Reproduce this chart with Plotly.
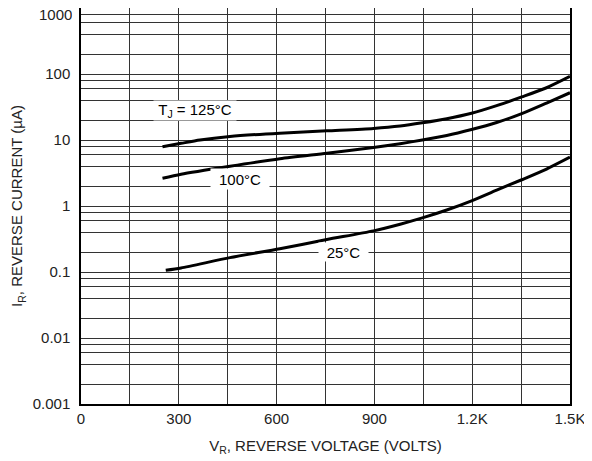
import math
import plotly.graph_objects as go

# ---- data ----
v_125 = [250, 307, 365, 457, 610, 754, 897, 979, 1047, 1122, 1198, 1275, 1352, 1428, 1500]
i_125 = [7.9, 8.9, 10.0, 11.3, 12.7, 13.8, 15.0, 16.3, 18.2, 21.0, 25.4, 33.1, 44.9, 61.9, 92.0]

v_100 = [250, 307, 457, 610, 754, 897, 979, 1047, 1122, 1198, 1275, 1352, 1428, 1500]
i_100 = [2.63, 3.03, 4.0, 5.2, 6.3, 7.7, 8.8, 10.0, 11.7, 14.4, 18.4, 25.1, 36.3, 52.0]

v_25 = [260, 307, 457, 610, 754, 897, 979, 1047, 1122, 1198, 1275, 1352, 1428, 1500]
i_25 = [0.106, 0.115, 0.165, 0.225, 0.31, 0.42, 0.53, 0.66, 0.87, 1.2, 1.74, 2.5, 3.63, 5.5]

x_tickvals = [0, 300, 600, 900, 1200, 1500]
x_ticktext = ["0", "300", "600", "900", "1.2K", "1.5K"]
x_minor = [150, 450, 750, 1050, 1350]

y_tickvals = [0.001, 0.01, 0.1, 1, 10, 100, 1000]
y_ticktext = ["0.001", "0.01", "0.1", "1", "10", "100", "1000"]
y_minor = [m * 10.0 ** e for e in range(-3, 3) for m in (2, 4, 6, 8)]

labels = [
    ("T<sub>J</sub> = 125°C", 350, 28.3, 0, 80, 17),
    ("100°C", 488, 2.0, 7, 56, 18),
    ("25°C", 806, 0.2, 0, 47, 16),
]

FONT = "Liberation Sans, Arial, sans-serif"
TXT = "#222"

fig = go.Figure()
for vx, iy in ((v_125, i_125), (v_100, i_100), (v_25, i_25)):
    fig.add_trace(go.Scatter(
        x=vx, y=iy, mode="lines",
        line=dict(color="black", width=3, shape="spline", smoothing=0.7),
        showlegend=False, hoverinfo="skip",
    ))

for text, lx, ly, ysh, w, h in labels:
    fig.add_annotation(
        x=lx, y=math.log10(ly), xref="x", yref="y", text=text,
        showarrow=False, bgcolor="white", width=w, height=h, yshift=ysh,
        font=dict(family=FONT, size=15, color="black"),
        align="center", valign="middle",
    )

# top tick label drawn slightly below its grid line so it stays inside the page
top_text = y_ticktext[-1]
shown_ticktext = y_ticktext[:-1] + [""]
fig.add_annotation(
    x=0, xref="paper", xanchor="right", xshift=-8,
    y=math.log10(y_tickvals[-1]), yref="y", yanchor="middle", yshift=-6,
    height=12, borderpad=0, valign="middle",
    text=top_text, showarrow=False,
    font=dict(family=FONT, size=15, color=TXT),
)

grid = "#333333"
fig.update_xaxes(
    range=[0, 1500], tickmode="array", tickvals=x_tickvals, ticktext=x_ticktext,
    showgrid=True, gridcolor=grid, gridwidth=1.2,
    minor=dict(tickmode="array", tickvals=x_minor, showgrid=True,
               gridcolor=grid, gridwidth=1.2),
    showline=True, linecolor="black", linewidth=1.5, mirror=True,
    zeroline=False, ticks="", ticklabelstandoff=0, automargin=False,
    ticklabeloverflow="allow",
    tickfont=dict(family=FONT, size=15, color=TXT),
    title=dict(text="V<sub>R</sub>, REVERSE VOLTAGE (VOLTS)", standoff=15,
               font=dict(family=FONT, size=15, color=TXT)),
)
fig.update_yaxes(
    type="log", range=[-3, 3], tickmode="array", tickvals=y_tickvals,
    ticktext=shown_ticktext,
    showgrid=True, gridcolor=grid, gridwidth=1.2,
    minor=dict(tickmode="array", tickvals=y_minor, showgrid=True,
               gridcolor=grid, gridwidth=1.2),
    showline=True, linecolor="black", linewidth=1.5, mirror=True,
    zeroline=False, ticks="", ticklabelstandoff=6, automargin=False,
    ticklabeloverflow="allow",
    tickfont=dict(family=FONT, size=15, color=TXT),
    title=dict(text="I<sub>R</sub>, REVERSE CURRENT (µA)", standoff=6,
               font=dict(family=FONT, size=15, color=TXT)),
)
fig.update_layout(
    width=584, height=453,
    margin=dict(l=73, r=22, t=0, b=57, autoexpand=False),
    paper_bgcolor="white", plot_bgcolor="white",
)
fig.write_html("out.html")
